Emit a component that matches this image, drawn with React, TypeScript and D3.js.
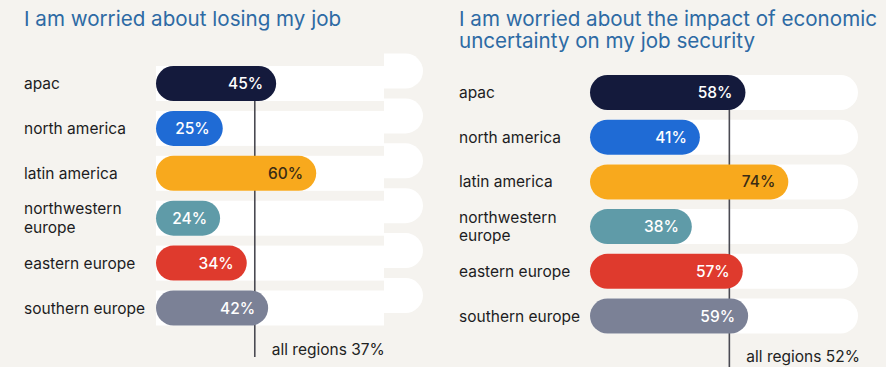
import * as React from "react";
import * as d3 from "d3";

// categories and values
const regions = ["apac", "north america", "latin america", "northwestern europe", "eastern europe", "southern europe"];
const regionLines = [["apac"], ["north america"], ["latin america"], ["northwestern", "europe"], ["eastern europe"], ["southern europe"]];
const losingJob = [45, 25, 60, 24, 34, 42];
const economicUncertainty = [58, 41, 74, 38, 57, 59];
const allRegions = [37, 52];
const regionColors = ["#141a3c", "#1f6bd5", "#f8a91d", "#5f9ba8", "#df3a2d", "#7b8196"];
const valueTextColors = ["#fff", "#fff", "#3a2c14", "#fff", "#fff", "#fff"];
const titles = [
  ["I am worried about losing my job"],
  ["I am worried about the impact of economic", "uncertainty on my job security"],
];

const W = 886;
const H = 367;
const BAR_H = 35;
const FONT = "Inter, 'Noto Sans', sans-serif";

function Panel(props) {
  const { values, avg, title, left, x0, x1, yTop, yBottom, lineBottom, avgBaseline, capShift } = props;

  const x = d3.scaleLinear().domain([0, 100]).range([x0, x1]);
  const y = d3.scalePoint().domain(regions).range([yTop, yBottom]);
  const r = BAR_H / 2;
  const capFrom = x(85.4);

  // rounded right end of the track (the left chart's caps sit a bit higher)
  const capPath = (cy) => {
    const t = cy - r - capShift;
    return `M${capFrom},${t}H${x1 - r}A${r},${r} 0 0 1 ${x1 - r},${t + BAR_H}H${capFrom}Z`;
  };

  return (
    <g>
      <g fill="#2d6aa4" style={{ fontFamily: FONT, fontSize: 20.6 }}>
        {title.map((t, i) => (
          <text key={i} x={left} y={26 + i * 22}>{t}</text>
        ))}
      </g>

      {/* tracks */}
      <g fill="#ffffff">
        {regions.map((d) => (
          <g key={d}>
            <rect x={x0} y={y(d) - r} width={capShift ? capFrom - x0 : x1 - x0} height={BAR_H}
              rx={capShift ? 0 : r} />
            {capShift ? <path d={capPath(y(d))} /> : null}
          </g>
        ))}
      </g>

      {/* all regions marker */}
      <line x1={x(avg)} x2={x(avg)} y1={y(regions[0])} y2={lineBottom} stroke="#4a4a52" strokeWidth={1.6} />
      <text x={x(avg) + 17} y={avgBaseline} fill="#222" style={{ fontFamily: FONT, fontSize: 15.5 }}>
        {`all regions ${avg}%`}
      </text>

      {/* bars */}
      {regions.map((d, i) => (
        <g key={d}>
          <rect x={x0} y={y(d) - r} width={x(values[i]) - x0} height={BAR_H} rx={r} fill={regionColors[i]} />
          <text x={x(values[i]) - 13} y={y(d) + 5.5} textAnchor="end" fill={valueTextColors[i]}
            style={{ fontFamily: FONT, fontSize: 15.5, fontWeight: 500 }}>
            {`${values[i]}%`}
          </text>
          <g fill="#1c1c22" style={{ fontFamily: FONT, fontSize: 15.5 }}>
            {regionLines[i].length === 1
              ? <text x={left} y={y(d) + 5.5}>{regionLines[i][0]}</text>
              : regionLines[i].map((l, j) => (
                <text key={j} x={left} y={y(d) - 4 + j * 18.5}>{l}</text>
              ))}
          </g>
        </g>
      ))}
    </g>
  );
}

export default function App() {
  React.useEffect(() => {
    document.body.style.margin = "0";
  }, []);

  return (
    <svg width={W} height={H} style={{ display: "block" }}>
      <rect width={W} height={H} fill="#f5f3ef" />
      <Panel values={losingJob} avg={allRegions[0]} title={titles[0]} left={24}
        x0={156} x1={423} yTop={83.5} yBottom={308} lineBottom={357} avgBaseline={355} capShift={12.5} />
      <Panel values={economicUncertainty} avg={allRegions[1]} title={titles[1]} left={459}
        x0={590} x1={858} yTop={92.5} yBottom={316} lineBottom={367} avgBaseline={362} capShift={0} />
    </svg>
  );
}
